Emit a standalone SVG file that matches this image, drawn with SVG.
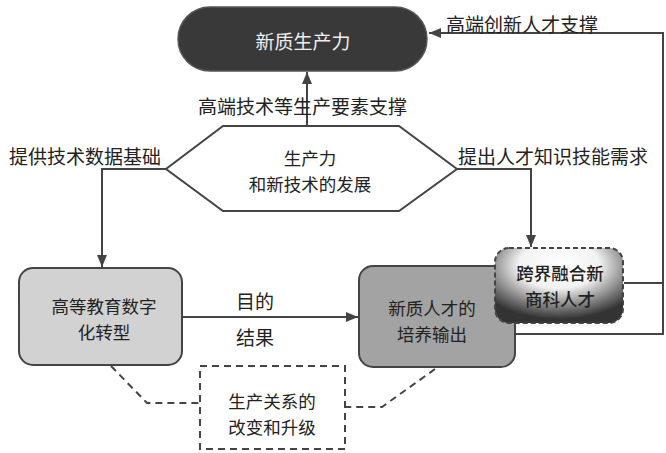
<svg xmlns="http://www.w3.org/2000/svg" width="666" height="453" viewBox="0 0 666 453">
<defs>
<style>
text{font-family:"Noto Sans CJK SC","Noto Sans",sans-serif;font-size:19px;fill:#222;text-anchor:middle;dominant-baseline:central}
.lbl{text-anchor:start}
.ml{font-size:17.5px}
.conn{fill:none;stroke:#444;stroke-width:2}
.dash{fill:none;stroke:#444;stroke-width:2;stroke-dasharray:7 5}
</style>
<marker id="arr" viewBox="0 0 12 10" refX="12" refY="5" markerWidth="12" markerHeight="10" markerUnits="userSpaceOnUse" orient="auto">
<path d="M0,0 L12,5 L0,10 z" fill="#444"/>
</marker>
<radialGradient id="g3" cx="50%" cy="25%" r="70%" fx="50%" fy="20%">
<stop offset="0" stop-color="#ffffff"/>
<stop offset="0.45" stop-color="#f2f2f2"/>
<stop offset="0.8" stop-color="#777"/>
<stop offset="1" stop-color="#333"/>
</radialGradient>
</defs>
<rect width="666" height="453" fill="#fff"/>
<g id="connectors">
<path class="conn" d="M307,126 L307,72" marker-end="url(#arr)"/>
<path class="conn" d="M166,169 L102,169 L102,267" marker-end="url(#arr)"/>
<path class="conn" d="M457,169 L531,169 L531,247" marker-end="url(#arr)"/>
<path class="conn" d="M182,317 L358,317" marker-end="url(#arr)"/>
<path class="conn" d="M624,283 L663,283 M515,334 L663,334 L663,33 L429,33" marker-end="url(#arr)"/>
<path class="dash" d="M111,366 L147,403 L200,403"/>
<path class="dash" d="M435,369 L382,407 L345,407"/>
<text class="lbl" x="198" y="105">高端技术等生产要素支撑</text>
<text class="lbl" x="446" y="23">高端创新人才支撑</text>
<text class="lbl" x="9" y="155">提供技术数据基础</text>
<text class="lbl" x="458" y="155">提出人才知识技能需求</text>
<text x="255" y="300">目的</text>
<text x="255" y="336">结果</text>
</g>
<g id="node-xinzhi">
<rect x="178" y="7" width="249" height="64" rx="32" fill="#393939" stroke="#555" stroke-width="1.5"/>
<text x="303" y="40" style="fill:#eee">新质生产力</text>
</g>
<g id="node-hex">
<polygon points="223,126 399,126 457,169 399,211 223,211 166,169" fill="#fff" stroke="#444" stroke-width="2"/>
<text class="ml" x="310" y="157">生产力</text>
<text class="ml" x="310" y="183">和新技术的发展</text>
</g>
<g id="node-edu">
<rect x="19" y="268" width="163" height="97" rx="14" fill="#d2d2d2" stroke="#444" stroke-width="2"/>
<text class="ml" x="104" y="305">高等教育数字</text>
<text class="ml" x="104" y="331">化转型</text>
</g>
<g id="node-talent">
<rect x="359" y="266" width="156" height="101" rx="14" fill="#a3a3a3" stroke="#444" stroke-width="2"/>
<text class="ml" x="432" y="307">新质人才的</text>
<text class="ml" x="432" y="333">培养输出</text>
</g>
<g id="node-cross">
<rect x="495" y="248" width="128" height="75" rx="14" fill="url(#g3)" stroke="#444" stroke-width="2" stroke-dasharray="5 3"/>
<text class="ml" x="560" y="272" style="font-weight:500">跨界融合新</text>
<text class="ml" x="560" y="298" style="font-weight:500">商科人才</text>
</g>
<g id="node-relation">
<rect x="200" y="366" width="145" height="83" fill="#fff" stroke="#444" stroke-width="2" stroke-dasharray="7 5"/>
<text class="ml" x="272" y="400">生产关系的</text>
<text class="ml" x="272" y="426">改变和升级</text>
</g>
</svg>
